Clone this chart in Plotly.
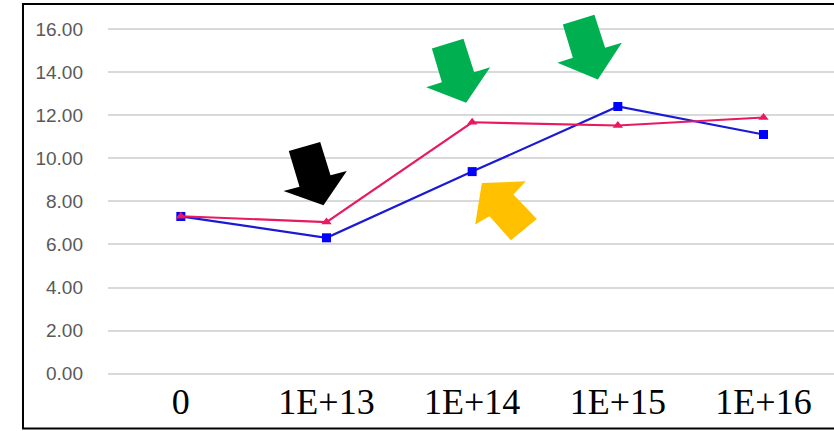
import plotly.graph_objects as go

# Category labels along the x axis
categories = ["0", "1E+13", "1E+14", "1E+15", "1E+16"]

# Series values
blue_values = [7.30, 6.31, 9.38, 12.40, 11.10]
red_values = [7.31, 7.04, 11.67, 11.52, 11.89]

# Y tick values and their labels
y_ticks = [0, 2, 4, 6, 8, 10, 12, 14, 16]
y_tick_labels = [f"{v:.2f}" for v in y_ticks]

fig = go.Figure()

fig.add_trace(go.Scatter(
    x=categories, y=blue_values, mode="lines+markers",
    line=dict(color="#1a1ad6", width=2.2),
    marker=dict(symbol="square", size=9, color="#0000ff"),
    showlegend=False,
))
fig.add_trace(go.Scatter(
    x=categories, y=red_values, mode="lines+markers",
    line=dict(color="#e8195f", width=2.2),
    marker=dict(symbol="triangle-up", size=9, color="#e8195f"),
    showlegend=False,
))


def block_arrow(cat_index, value, pts, color):
    """Filled block arrow; vertices are pixel offsets from a data point."""
    path = "M " + " L ".join(f"{dx},{dy}" for dx, dy in pts) + " Z"
    return dict(
        type="path", xref="x", yref="y",
        xsizemode="pixel", ysizemode="pixel",
        xanchor=cat_index, yanchor=value,
        path=path, fillcolor=color, line=dict(width=0), layer="above",
    )


down_arrow_black = [(-37.7, 71), (-6.3, 80), (4, 46.7), (20.3, 51), (-3, 16.7), (-43, 31), (-27, 35.4)]
down_arrow_green1 = [(-40.3, 73.7), (-8.7, 83.4), (2, 50), (18, 55), (-6, 19.4), (-46, 35), (-30.3, 40)]
down_arrow_green2 = [(-55, 82), (-23.4, 91.7), (-12.7, 58.7), (4, 63.7), (-20, 27), (-60.4, 43.7), (-45, 48.7)]
up_arrow_yellow = [(9.7, -11.3), (53.7, -9.7), (41.3, -23), (64.7, -47.3), (38.7, -68.7), (17.3, -44.7), (3, -53)]

shapes = [
    block_arrow(1, red_values[1], down_arrow_black, "#000000"),
    block_arrow(2, red_values[2], down_arrow_green1, "#00b050"),
    block_arrow(3, blue_values[3], down_arrow_green2, "#00b050"),
    block_arrow(2, blue_values[2], up_arrow_yellow, "#ffc000"),
    # frame around the chart
    dict(type="rect", xref="paper", yref="paper",
         x0=-0.1171, x1=1.01, y0=-0.1396, y1=0.9894,
         line=dict(color="#000000", width=2), fillcolor="rgba(0,0,0,0)", layer="above"),
]

fig.update_layout(
    width=834, height=431,
    margin=dict(l=108, r=0, t=0, b=55),
    paper_bgcolor="white", plot_bgcolor="white",
    shapes=shapes,
    xaxis=dict(
        type="category", range=[-0.5, 4.484],
        tickvals=categories, ticktext=categories,
        tickfont=dict(family="Liberation Serif", size=36, color="#000000"),
        showgrid=False, showline=False, zeroline=False, ticks="",
        ticklabelstandoff=1,
    ),
    yaxis=dict(
        range=[-0.1, 17.34],
        tickvals=y_ticks, ticktext=y_tick_labels,
        tickfont=dict(family="Liberation Sans", size=19, color="#595959"),
        showgrid=True, gridcolor="#d9d9d9", gridwidth=1.5,
        zeroline=True, zerolinecolor="#d9d9d9", zerolinewidth=1.5,
        showline=False, ticks="", ticklabelstandoff=24,
    ),
)

fig.write_html("out.html")
